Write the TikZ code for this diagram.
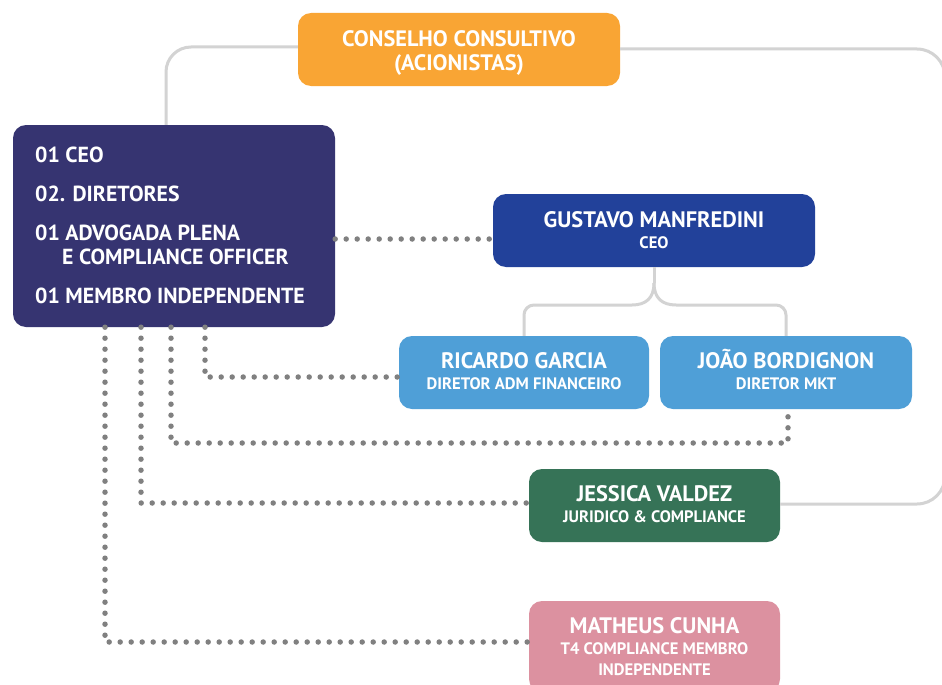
\documentclass[tikz,border=0pt]{standalone}
\usepackage{fontspec}
\setmainfont{PT Sans}
\definecolor{corange}{HTML}{F9A534}
\definecolor{cindigo}{HTML}{363471}
\definecolor{cnavy}{HTML}{22419A}
\definecolor{clblue}{HTML}{4F9FD7}
\definecolor{cgreen}{HTML}{367357}
\definecolor{cpink}{HTML}{DC91A0}
\definecolor{lgray}{HTML}{D3D3D3}
\definecolor{dgray}{HTML}{808080}
\tikzset{
  box/.style={rounded corners=13pt, inner sep=0pt},
  nm/.style={text=white, font=\bfseries\fontsize{22.4}{26}\selectfont, anchor=base, inner sep=0pt},
  cn/.style={text=white, font=\bfseries\fontsize{22.3}{26}\selectfont, anchor=base, inner sep=0pt},
  sb/.style={text=white, font=\bfseries\fontsize{16.6}{19}\selectfont, anchor=base, inner sep=0pt},
  ls/.style={text=white, font=\bfseries\fontsize{21.8}{25}\selectfont, anchor=base west, inner sep=0pt},
  gline/.style={draw=lgray, line width=3pt},
  dots/.style={draw=dgray, line width=5.5pt, line cap=round, dash pattern=on 0pt off 11pt},
}
\begin{document}
\begin{tikzpicture}[x=1pt,y=-1pt]
\clip (0,0) rectangle (942,685);
\fill[white] (0,0) rectangle (942,685);
% boxes
\node[box, fill=corange, minimum width=322pt, minimum height=73pt] (cons) at (459,49.5) {};
\node[box, fill=cindigo, minimum width=322pt, minimum height=202pt] (ceo) at (174,226) {};
\node[box, fill=cnavy, minimum width=322pt, minimum height=73pt] (gus) at (654,230.5) {};
\node[box, fill=clblue, minimum width=250pt, minimum height=73pt] (ric) at (524,372.5) {};
\node[box, fill=clblue, minimum width=252pt, minimum height=73pt] (joao) at (786,372.5) {};
\node[box, fill=cgreen, minimum width=251pt, minimum height=73pt] (jes) at (654.5,505.5) {};
\node[box, fill=cpink, minimum width=251pt, minimum height=91pt] (mat) at (654.5,646.5) {};

% gray connectors
\draw[gline, rounded corners=25pt] (cons.west |- 0,47) -| (ceo.north -| 166,0);
\draw[gline, rounded corners=28pt] (cons.east |- 0,49) -- (945,49) -- (945,504) -- (jes.east |- 0,504);
\coordinate (split) at (654,283);
\coordinate (lb) at (632,305);
\coordinate (rb) at (676,305);
\draw[gline] (gus.south) -- (split);
\draw[gline] (split) .. controls (654,298) and (646,305) .. (lb);
\draw[gline] (split) .. controls (654,298) and (662,305) .. (rb);
\draw[gline, rounded corners=10pt] (lb) -- (ric.north |- lb) -- (ric.north);
\draw[gline, rounded corners=10pt] (rb) -- (joao.north |- rb) -- (joao.north);

% dotted connectors
\draw[dots] (ceo.east |- 0,239) -- (gus.west |- 0,239);
\draw[dots] (ceo.south -| 205,0) |- (ric.west |- 0,377);
\coordinate (jc) at (788,443);
\draw[dots] (ceo.south -| 171,0) |- (jc) -- (joao.south -| jc);
\draw[dots] (ceo.south -| 141,0) |- (jes.west |- 0,503);
\draw[dots] (ceo.south -| 105,0) |- (mat.west |- 0,642);

% texts
\node[cn] (cons-a) at (459,46.7) {CONSELHO CONSULTIVO};
\node[cn] (cons-b) at (459,70.7) {(ACIONISTAS)};

\node[ls] (l1) at (35,162.3) {01 CEO};
\node[ls] (l2) at (35,201) {02. DIRETORES};
\node[ls] (l3) at (35,240) {01 ADVOGADA PLENA};
\node[ls] (l4) at (62,264.3) {E COMPLIANCE OFFICER};
\node[ls] (l5) at (35,303.3) {01 MEMBRO INDEPENDENTE};

\node[nm] (gus-a) at (654,227.7) {GUSTAVO MANFREDINI};
\node[sb] (gus-b) at (654,248.3) {CEO};

\node[nm] (ric-a) at (524,368.3) {RICARDO GARCIA};
\node[sb] (ric-b) at (524,389.3) {DIRETOR ADM FINANCEIRO};

\node[nm] (joao-a) at (786,368.3) {JOÃO BORDIGNON};
\node[sb] (joao-b) at (786,389.3) {DIRETOR MKT};

\node[nm] (jes-a) at (654.5,501.7) {JESSICA VALDEZ};
\node[sb] (jes-b) at (654.5,522) {JURIDICO \& COMPLIANCE};

\node[nm] (mat-a) at (654.5,633.3) {MATHEUS CUNHA};
\node[sb] (mat-b) at (654.5,654) {T4 COMPLIANCE MEMBRO};
\node[sb] (mat-c) at (654.5,675.3) {INDEPENDENTE};
\end{tikzpicture}
\end{document}
